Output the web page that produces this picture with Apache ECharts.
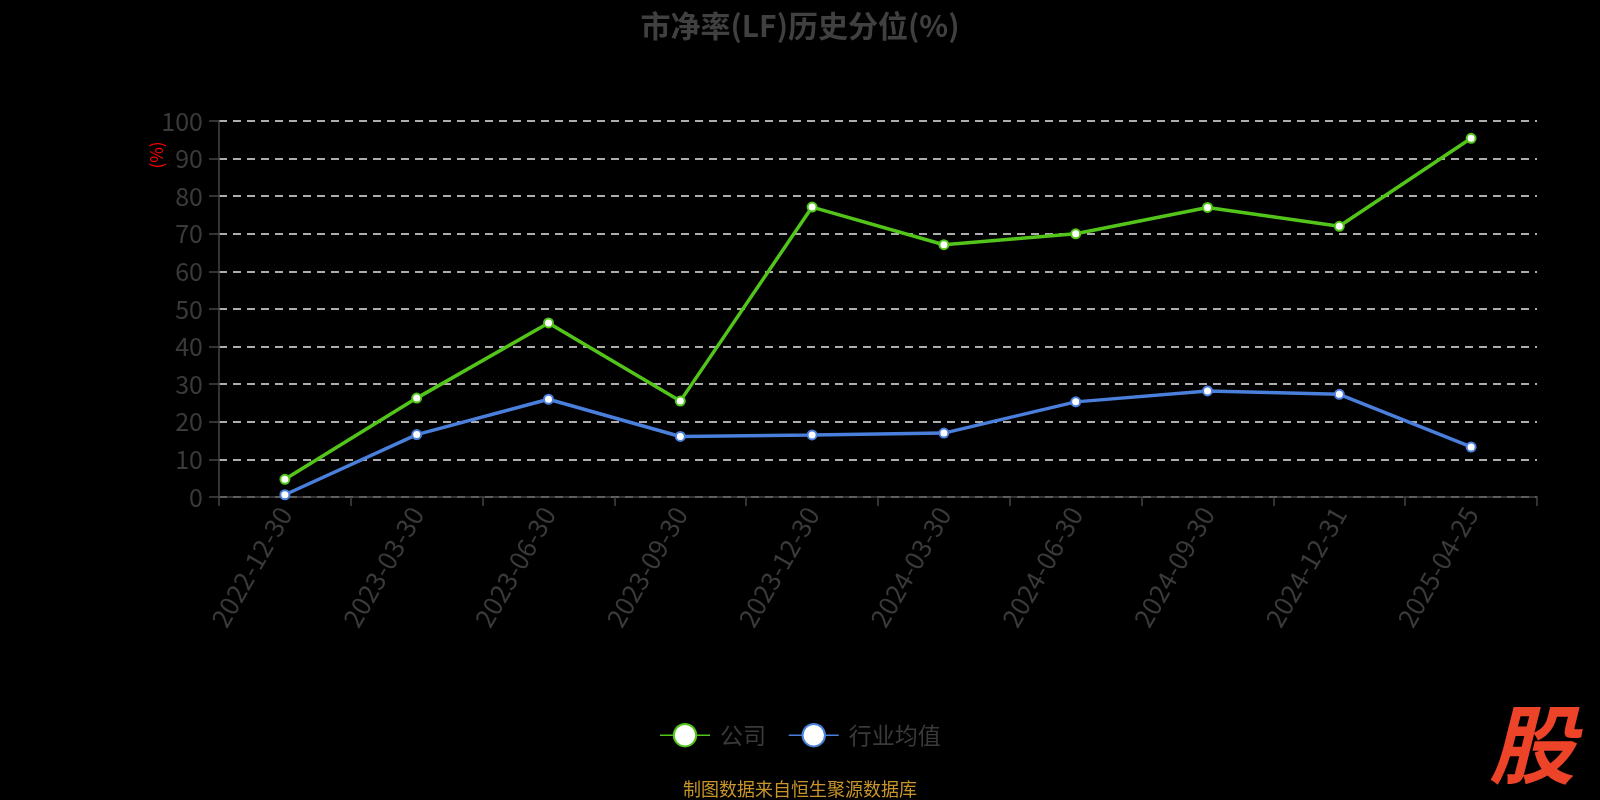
<!DOCTYPE html>
<html>
<head>
<meta charset="utf-8">
<script src="https://cdn.jsdelivr.net/npm/echarts@6/dist/echarts.min.js"></script>
<style>html,body{margin:0;padding:0;background:#000;}#main{width:1600px;height:800px;}</style>
</head>
<body>
<div id="main"></div>
<script>
const categories = ['2022-12-30','2023-03-30','2023-06-30','2023-09-30','2023-12-30','2024-03-30','2024-06-30','2024-09-30','2024-12-31','2025-04-25'];
const companyValues = [4.7, 26.3, 46.3, 25.5, 77.1, 67.1, 70.0, 77.0, 72.0, 95.4];
const industryValues = [0.6, 16.6, 26.0, 16.1, 16.5, 17.0, 25.3, 28.2, 27.3, 13.3];
const seriesNames = ['公司', '行业均值'];
const yTicks = {min: 0, max: 100, interval: 10};
const titleText = '市净率(LF)历史分位(%)';
const unitText = '(%)';
const sourceText = '制图数据来自恒生聚源数据库';
const logoText = '股';

const FONT = '"Noto Sans CJK SC", "Noto Sans", sans-serif';
const chart = echarts.init(document.getElementById('main'));

function lineSeries(name, data, color) {
  return {
    name: name,
    type: 'line',
    data: data,
    symbol: 'circle',
    symbolSize: 9,
    lineStyle: {color: color, width: 3.5},
    itemStyle: {color: '#fff', borderColor: color, borderWidth: 2},
    label: {show: false},
    emphasis: {disabled: true}
  };
}

chart.setOption({
  backgroundColor: '#000',
  animation: false,
  title: {
    text: titleText,
    left: 'center',
    top: 6,
    textStyle: {color: '#404040', fontSize: 30, fontWeight: 'bold', fontFamily: FONT}
  },
  legend: {
    data: seriesNames,
    left: 'center',
    top: 718,
    itemWidth: 50,
    itemHeight: 28,
    itemGap: 22,
    lineStyle: {width: 1.5},
    textStyle: {color: '#3a3a3a', fontSize: 23, fontFamily: FONT, padding: [0, 0, 0, 5]}
  },
  grid: {left: 219, right: 63, top: 121, bottom: 303},
  xAxis: {
    type: 'category',
    data: categories,
    boundaryGap: true,
    axisLine: {lineStyle: {color: '#444', width: 1.5}},
    axisTick: {show: true, length: 9, lineStyle: {color: '#444', width: 1.5}},
    axisLabel: {color: '#3a3a3a', fontSize: 26, rotate: 60, margin: 12, fontFamily: FONT, interval: 0},
    splitLine: {show: false}
  },
  yAxis: {
    type: 'value',
    min: yTicks.min,
    max: yTicks.max,
    interval: yTicks.interval,
    axisLine: {show: true, lineStyle: {color: '#444', width: 1.5}},
    axisTick: {show: true, length: 10, lineStyle: {color: '#444', width: 1.5}},
    axisLabel: {color: '#3a3a3a', fontSize: 25, margin: 16, fontFamily: FONT},
    splitLine: {show: true, lineStyle: {color: '#e6e6e6', width: 1.5, type: [8, 6]}}
  },
  graphic: [
    {type: 'text', x: 157, y: 155, rotation: Math.PI / 2,
     style: {text: unitText, fill: '#ff0000', fontSize: 17, fontFamily: FONT, align: 'center', verticalAlign: 'middle'}},
    {type: 'text', x: 800, y: 789,
     style: {text: sourceText, fill: '#c9952a', fontSize: 18, fontFamily: FONT, align: 'center', verticalAlign: 'middle'}},
    {type: 'text', x: 1532, y: 744,
     style: {text: logoText, fill: '#ec4329', fontSize: 86, fontWeight: 'bold', fontStyle: 'italic', fontFamily: FONT, align: 'center', verticalAlign: 'middle'}}
  ],
  series: [
    lineSeries(seriesNames[0], companyValues, '#52c41a'),
    lineSeries(seriesNames[1], industryValues, '#4a7fdc')
  ]
});
</script>
</body>
</html>
